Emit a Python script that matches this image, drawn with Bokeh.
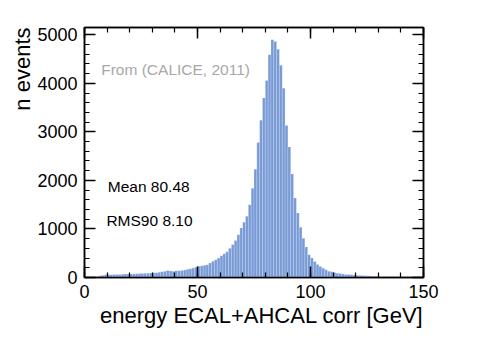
import numpy as np
from bokeh.plotting import figure
from bokeh.models import (LinearAxis, SingleIntervalTicker, Label, Range1d,
                          Title, CustomJSTickFormatter)
from bokeh.embed import file_html
from bokeh.resources import INLINE

# ---- data ----
bin_width = 1.25
counts = [
    0, 0, 0, 5, 22, 38, 48, 55, 60, 57,
    62, 60, 64, 68, 72, 70, 74, 72, 78, 82,
    80, 86, 88, 92, 96, 100, 108, 118, 128, 145,
    132, 130, 140, 138, 146, 152, 170, 182, 195, 212,
    232, 240, 250, 262, 300, 335, 365, 400, 450, 490,
    530, 600, 680, 760, 880, 1020, 1140, 1260, 1500, 1840,
    2230, 2780, 3240, 3700, 4060, 4590, 4900, 4860, 4700, 4370,
    3900, 3130, 2690, 2130, 1640, 1330, 1033, 810, 630, 470,
    404, 330, 267, 226, 191, 158, 130, 117, 103, 88,
    80, 74, 64, 60, 55, 50, 46, 42, 40, 36,
    34, 30, 28, 24, 16, 10, 0, 0, 0, 0,
    0, 0, 0, 0, 0, 0, 0, 0, 0, 0,
]
x_label = "energy ECAL+AHCAL corr [GeV]"
y_label = "n events"
source_note = "From (CALICE, 2011)"
stat_mean = "Mean 80.48"
stat_rms = "RMS90 8.10"

x_min, x_max = 0, 150
y_min, y_max = 0, 5150

edges = np.arange(len(counts) + 1) * bin_width
left = edges[:-1]
right = edges[1:]

p = figure(
    frame_width=339, frame_height=250,
    x_range=Range1d(x_min, x_max), y_range=Range1d(y_min, y_max),
    output_backend="svg", toolbar_location=None,
    min_border_left=84, min_border_top=27, min_border_bottom=58, min_border_right=40,
    x_axis_location=None, y_axis_location=None,
)
p.xgrid.visible = False
p.ygrid.visible = False
p.outline_line_color = "black"
p.outline_line_width = 1.5
p.background_fill_color = "white"
p.border_fill_color = "white"

p.quad(left=left, right=right, bottom=0, top=counts,
       fill_color="#789ad6", line_color="white", line_alpha=0.4, line_width=0.5)

FONT = "Liberation Sans"
blank = CustomJSTickFormatter(code="return ''")

def style_axis(ax, show_labels, standoff):
    ax.axis_line_color = "black"
    ax.axis_line_width = 1.5
    ax.major_tick_line_color = "black"
    ax.minor_tick_line_color = "black"
    ax.major_tick_line_width = 1.5
    ax.minor_tick_line_width = 1.2
    ax.major_tick_in = 11
    ax.major_tick_out = 0
    ax.minor_tick_in = 5
    ax.minor_tick_out = 0
    ax.major_label_text_font = FONT
    ax.major_label_text_color = "black"
    ax.major_label_text_font_size = "18px"
    ax.major_label_standoff = standoff
    if not show_labels:
        ax.formatter = blank
        ax.major_label_standoff = 0

xt = dict(interval=50, num_minor_ticks=5)
yt = dict(interval=1000, num_minor_ticks=5)

xb = LinearAxis(ticker=SingleIntervalTicker(**xt))
style_axis(xb, True, 7)
p.add_layout(xb, "below")
xa = LinearAxis(ticker=SingleIntervalTicker(**xt))
style_axis(xa, False, 0)
p.add_layout(xa, "above")
yl = LinearAxis(ticker=SingleIntervalTicker(**yt))
style_axis(yl, True, 7)
p.add_layout(yl, "left")
yr = LinearAxis(ticker=SingleIntervalTicker(**yt))
style_axis(yr, False, 0)
p.add_layout(yr, "right")

# axis titles, aligned to the axis end as in the reference
p.add_layout(Title(text=x_label, align="right", text_font=FONT,
                   text_font_size="22px", text_font_style="normal",
                   text_color="black", standoff=0, offset=0), "below")
p.add_layout(Title(text=y_label, align="right", text_font=FONT,
                   text_font_size="22px", text_font_style="normal",
                   text_color="black", standoff=0, offset=0), "left")

# in-plot texts
p.add_layout(Label(x=7.4, y=4290, text=source_note, text_align="left",
                   text_baseline="alphabetic", text_font=FONT,
                   text_font_size="15.5px", text_color="#a8a8a8"))
p.add_layout(Label(x=10.3, y=1870, text=stat_mean, text_align="left",
                   text_baseline="alphabetic", text_font=FONT,
                   text_font_size="15.5px", text_color="black"))
p.add_layout(Label(x=9.7, y=1170, text=stat_rms, text_align="left",
                   text_baseline="alphabetic", text_font=FONT,
                   text_font_size="15.5px", text_color="black"))

open("out.html", "w").write(file_html(p, INLINE))
